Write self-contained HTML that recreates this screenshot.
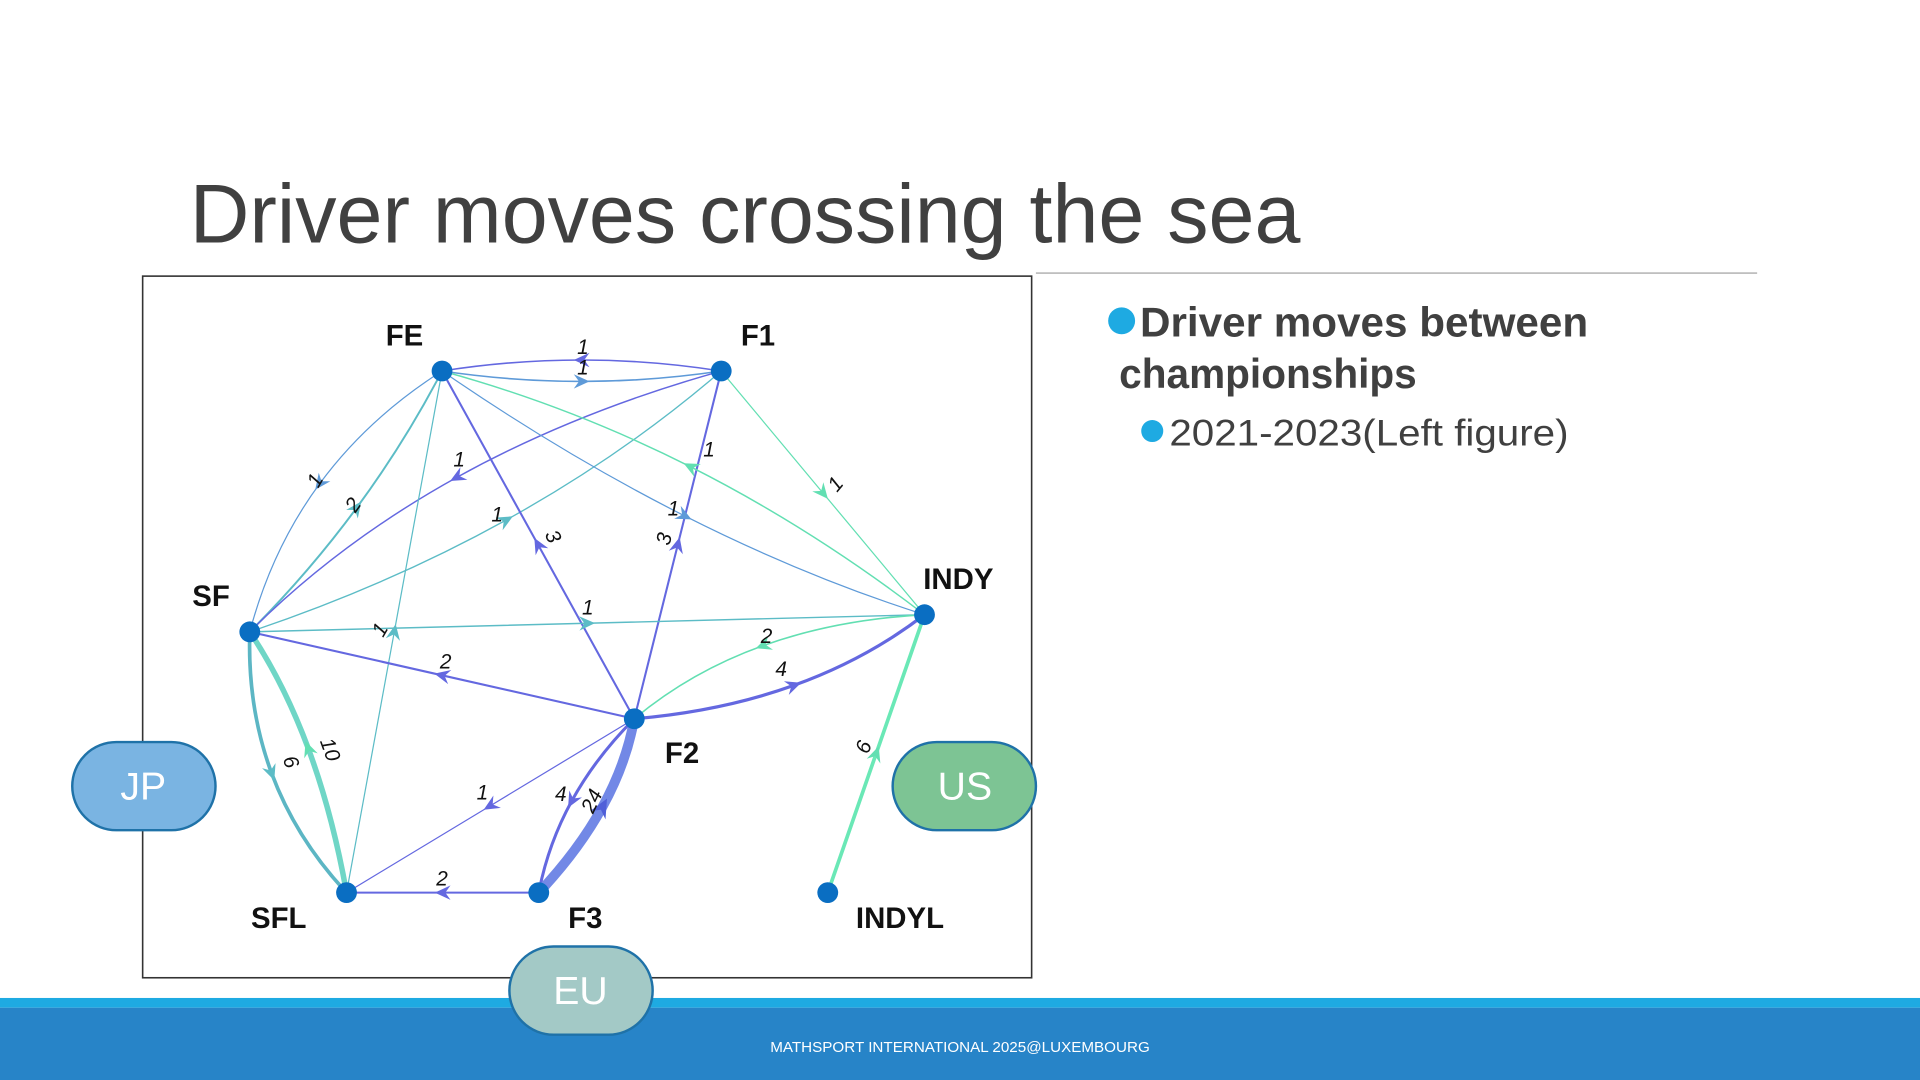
<!DOCTYPE html>
<html><head><meta charset="utf-8"><style>
html,body{margin:0;padding:0;background:#fff;}
svg{display:block;}
</style></head><body>
<svg width="1920" height="1080" viewBox="0 0 1568 882" xmlns="http://www.w3.org/2000/svg" font-family="Liberation Sans, sans-serif">
<defs>
<marker id="mp" viewBox="-7 -7 14 14" markerWidth="15" markerHeight="15" markerUnits="userSpaceOnUse" orient="auto"><path d="M6,0 L-6,-5.5 L-2,0 L-6,5.5 z" fill="#6468e0"/></marker>
<marker id="mb" viewBox="-7 -7 14 14" markerWidth="15" markerHeight="15" markerUnits="userSpaceOnUse" orient="auto"><path d="M6,0 L-6,-5.5 L-2,0 L-6,5.5 z" fill="#5e9ad8"/></marker>
<marker id="mt" viewBox="-7 -7 14 14" markerWidth="15" markerHeight="15" markerUnits="userSpaceOnUse" orient="auto"><path d="M6,0 L-6,-5.5 L-2,0 L-6,5.5 z" fill="#5cbcc6"/></marker>
<marker id="mm" viewBox="-7 -7 14 14" markerWidth="15" markerHeight="15" markerUnits="userSpaceOnUse" orient="auto"><path d="M6,0 L-6,-5.5 L-2,0 L-6,5.5 z" fill="#62dfb2"/></marker>
<marker id="mx" viewBox="-7 -7 14 14" markerWidth="18" markerHeight="18" markerUnits="userSpaceOnUse" orient="auto"><path d="M6,0 L-6,-5.5 L-2,0 L-6,5.5 z" fill="#4f5fd8"/></marker>
</defs>

<text x="155" y="198" font-size="68" fill="#404040" textLength="907" lengthAdjust="spacingAndGlyphs" font-family="Liberation Sans, DejaVu Sans, sans-serif">Driver moves crossing the sea</text>
<line x1="846" y1="223" x2="1435" y2="223" stroke="#999" stroke-width="1"/>

<rect x="116.5" y="225.5" width="726" height="573" fill="#fff" stroke="#333" stroke-width="1.3"/>

<g fill="none">
<path d="M589,303 Q532,294 475,294 Q418,294 361,303" stroke="#6468e0" stroke-width="1.3" marker-mid="url(#mp)"/>
<path d="M361,303 Q418,311.5 475,311.5 Q532,311.5 589,303" stroke="#5e9ad8" stroke-width="1.3" marker-mid="url(#mb)"/>
<path d="M361,303 Q300.5,341.5 261.25,394.75 Q222,448 204,516" stroke="#5e9ad8" stroke-width="1" marker-mid="url(#mb)"/>
<path d="M204,516 Q252,468 291.25,414.75 Q330.5,361.5 361,303" stroke="#5cbcc6" stroke-width="1.6" marker-mid="url(#mt)"/>
<path d="M589,303 Q469.5,336.5 373.25,389.75 Q277,443 204,516" stroke="#6468e0" stroke-width="1.2" marker-mid="url(#mp)"/>
<path d="M204,516 Q317,478 413.25,424.75 Q509.5,371.5 589,303" stroke="#5cbcc6" stroke-width="1.1" marker-mid="url(#mt)"/>
<path d="M518,587 L439.5,445 L361,303" stroke="#6468e0" stroke-width="1.7" marker-mid="url(#mp)"/>
<path d="M518,587 L553.5,445 L589,303" stroke="#6468e0" stroke-width="1.7" marker-mid="url(#mp)"/>
<path d="M361,303 Q460.5,371.5 559,421.25 Q657.5,471 755,502" stroke="#5e9ad8" stroke-width="1" marker-mid="url(#mb)"/>
<path d="M755,502 Q662.5,431 564,381.25 Q465.5,331.5 361,303" stroke="#62dfb2" stroke-width="1.2" marker-mid="url(#mm)"/>
<path d="M589,303 L672,402.5 L755,502" stroke="#62dfb2" stroke-width="1" marker-mid="url(#mm)"/>
<path d="M204,516 L479.5,509 L755,502" stroke="#5cbcc6" stroke-width="1.2" marker-mid="url(#mt)"/>
<path d="M283,729 L322,516 L361,303" stroke="#5cbcc6" stroke-width="1" marker-mid="url(#mt)"/>
<path d="M518,587 L361,551.5 L204,516" stroke="#6468e0" stroke-width="1.7" marker-mid="url(#mp)"/>
<path d="M755,502 Q682.5,506 623.25,527.25 Q564,548.5 518,587" stroke="#62dfb2" stroke-width="1.3" marker-mid="url(#mm)"/>
<path d="M518,587 Q589,581 648.25,559.75 Q707.5,538.5 755,502" stroke="#6468e0" stroke-width="2.6" marker-mid="url(#mp)"/>
<path d="M518,587 L400.5,658 L283,729" stroke="#6468e0" stroke-width="1" marker-mid="url(#mp)"/>
<path d="M440,729 L361.5,729 L283,729" stroke="#6468e0" stroke-width="1.6" marker-mid="url(#mp)"/>
<path d="M518,587 Q486.5,618.5 467,654 Q447.5,689.5 440,729" stroke="#6468e0" stroke-width="2.5" marker-mid="url(#mp)"/>
<path d="M440,729 Q472.5,694.5 492,659 Q511.5,623.5 518,587" stroke="#7288e6" stroke-width="8" marker-mid="url(#mx)"/>
<path d="M204,516 Q202,578 221.75,631.25 Q241.5,684.5 283,729" stroke="#5cb6c4" stroke-width="3" marker-mid="url(#mt)"/>
<path d="M283,729 Q271.5,664.5 251.75,611.25 Q232,558 204,516" stroke="#6fd6c6" stroke-width="4.5" marker-mid="url(#mm)"/>
<path d="M676,729 L715.5,615.5 L755,502" stroke="#6ae8b6" stroke-width="3" marker-mid="url(#mm)"/>
</g>

<g font-size="17" font-style="italic" fill="#111" text-anchor="middle">
<text x="476" y="289">1</text><text x="476" y="306">1</text>
<text x="257" y="398" transform="rotate(-60 257 392)">1</text>
<text x="288" y="418" transform="rotate(-55 288 412)">2</text>
<text x="375" y="381">1</text>
<text x="406" y="426">1</text>
<text x="452" y="444" transform="rotate(65 452 438)">3</text>
<text x="542" y="446" transform="rotate(-75 542 440)">3</text>
<text x="579" y="373">1</text>
<text x="550" y="421">1</text>
<text x="682" y="401" transform="rotate(-50 682 395)">1</text>
<text x="480" y="502">1</text>
<text x="310" y="520" transform="rotate(-60 310 514)">1</text>
<text x="364" y="546">2</text>
<text x="626" y="525">2</text>
<text x="638" y="552">4</text>
<text x="394" y="653">1</text>
<text x="361" y="723">2</text>
<text x="458" y="654">4</text>
<text x="483" y="660" transform="rotate(-65 483 654)">24</text>
<text x="238" y="628" transform="rotate(70 238 622)">6</text>
<text x="270" y="618" transform="rotate(70 270 612)">10</text>
<text x="705" y="616" transform="rotate(-70 705 610)">6</text>
</g>

<g fill="#0a6ec2">
<circle cx="361" cy="303" r="8.5"/><circle cx="589" cy="303" r="8.5"/>
<circle cx="204" cy="516" r="8.5"/><circle cx="755" cy="502" r="8.5"/>
<circle cx="518" cy="587" r="8.5"/><circle cx="283" cy="729" r="8.5"/>
<circle cx="440" cy="729" r="8.5"/><circle cx="676" cy="729" r="8.5"/>
</g>
<g font-size="24" font-weight="bold" fill="#111">
<text x="315" y="282">FE</text><text x="605" y="282">F1</text>
<text x="157" y="495">SF</text><text x="754" y="481">INDY</text>
<text x="543" y="623">F2</text><text x="205" y="758">SFL</text>
<text x="464" y="758">F3</text><text x="699" y="758">INDYL</text>
</g>

<rect x="0" y="815" width="1568" height="8" fill="#1eaae2"/>
<rect x="0" y="823" width="1568" height="59" fill="#2784c8"/>
<text x="784" y="859" font-size="12" fill="#fff" text-anchor="middle" textLength="310" lengthAdjust="spacingAndGlyphs">MATHSPORT INTERNATIONAL 2025@LUXEMBOURG</text>

<g stroke="#1f72a8" stroke-width="2" font-size="32" fill="#fff" text-anchor="middle">
<rect x="59" y="606" width="117" height="72" rx="36" fill="#7ab4e2"/>
<rect x="729" y="606" width="117" height="72" rx="36" fill="#7dc494"/>
<rect x="416" y="773" width="117" height="72" rx="36" fill="#a3c9c6"/>
</g>
<g font-size="32" fill="#fff" text-anchor="middle">
<text x="117" y="653">JP</text><text x="788" y="653">US</text><text x="474" y="820">EU</text>
</g>

<circle cx="916" cy="262" r="11" fill="#1eaae2"/>
<text x="931" y="275" font-size="34" font-weight="bold" fill="#404040" textLength="366" lengthAdjust="spacingAndGlyphs">Driver moves between</text>
<text x="914" y="317" font-size="34" font-weight="bold" fill="#404040" textLength="243" lengthAdjust="spacingAndGlyphs">championships</text>
<circle cx="941" cy="352" r="9" fill="#1eaae2"/>
<text x="955" y="364" font-size="30" fill="#404040" textLength="326" lengthAdjust="spacingAndGlyphs">2021-2023(Left figure)</text>
</svg>
</body></html>
